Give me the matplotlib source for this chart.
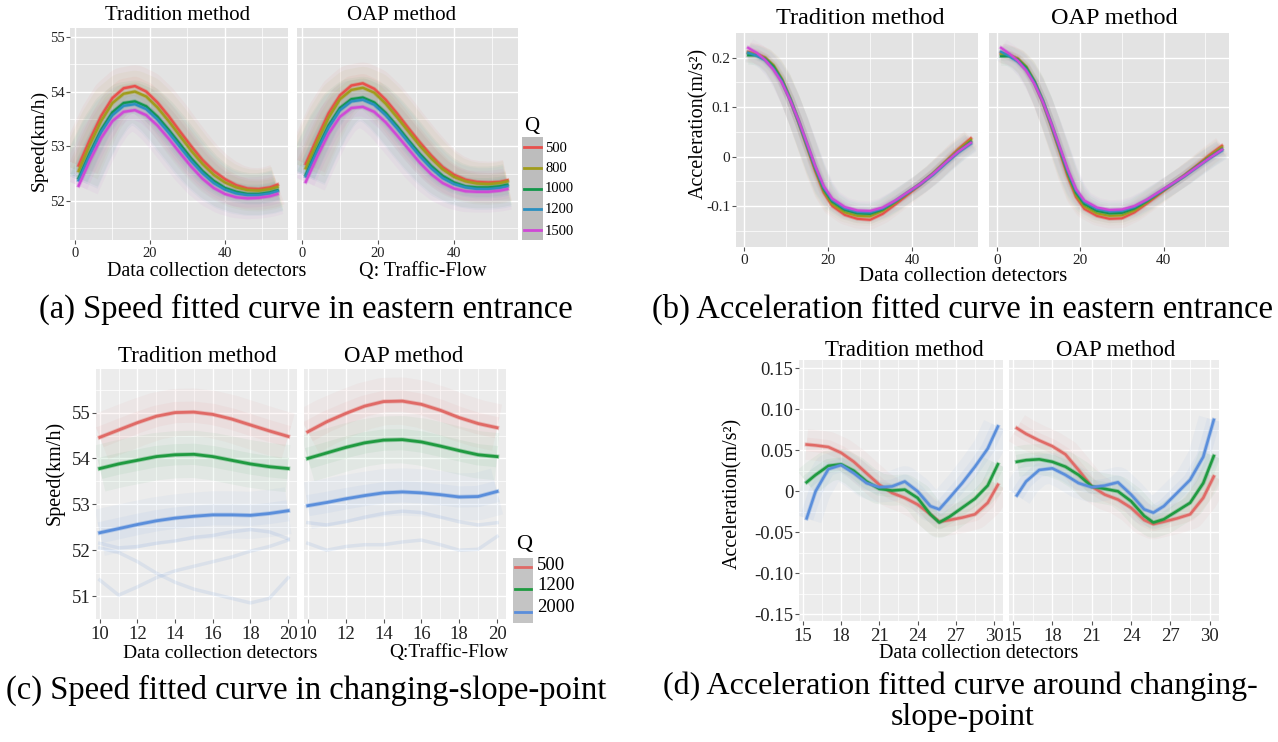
import numpy as np
import matplotlib.pyplot as plt

plt.rcParams['font.family'] = ['Liberation Serif', 'DejaVu Serif']

W, H = 1278, 742

# ---------------- (a) speed, eastern entrance ----------------
a_x = [1, 4, 7, 10, 13, 16, 19, 22, 25, 28, 31, 34, 37, 40, 43, 46, 49, 52, 54]
a_q = ['500', '800', '1000', '1200', '1500']
a_trad = [
    [52.65, 53.12, 53.55, 53.88, 54.06, 54.10, 54.00, 53.80, 53.55, 53.27, 53.00, 52.75, 52.55, 52.40, 52.29, 52.23, 52.22, 52.25, 52.30],
    [52.55, 53.03, 53.46, 53.79, 53.96, 54.00, 53.91, 53.71, 53.46, 53.19, 52.92, 52.68, 52.48, 52.34, 52.25, 52.20, 52.19, 52.22, 52.26],
    [52.42, 52.88, 53.30, 53.62, 53.79, 53.82, 53.73, 53.54, 53.30, 53.04, 52.78, 52.55, 52.37, 52.24, 52.17, 52.13, 52.13, 52.16, 52.20],
    [52.38, 52.84, 53.26, 53.57, 53.74, 53.77, 53.68, 53.49, 53.25, 52.99, 52.73, 52.51, 52.33, 52.21, 52.14, 52.11, 52.11, 52.14, 52.18],
    [52.28, 52.74, 53.15, 53.46, 53.63, 53.66, 53.57, 53.38, 53.14, 52.88, 52.63, 52.41, 52.24, 52.13, 52.07, 52.05, 52.06, 52.09, 52.13],
]
a_oap = [
    [52.68, 53.15, 53.60, 53.93, 54.11, 54.15, 54.05, 53.85, 53.60, 53.33, 53.07, 52.83, 52.62, 52.48, 52.39, 52.35, 52.34, 52.35, 52.38],
    [52.60, 53.08, 53.52, 53.86, 54.03, 54.07, 53.98, 53.78, 53.53, 53.27, 53.01, 52.78, 52.58, 52.44, 52.36, 52.32, 52.31, 52.33, 52.36],
    [52.48, 52.95, 53.38, 53.70, 53.86, 53.89, 53.80, 53.61, 53.37, 53.11, 52.86, 52.64, 52.46, 52.34, 52.27, 52.25, 52.25, 52.27, 52.30],
    [52.45, 52.91, 53.34, 53.66, 53.82, 53.85, 53.76, 53.57, 53.33, 53.07, 52.82, 52.60, 52.42, 52.31, 52.25, 52.22, 52.22, 52.24, 52.27],
    [52.35, 52.81, 53.23, 53.54, 53.70, 53.72, 53.63, 53.44, 53.20, 52.95, 52.70, 52.49, 52.33, 52.23, 52.18, 52.17, 52.17, 52.19, 52.22],
]

# ---------------- (b) acceleration, eastern entrance ----------------
b_x = [1, 3, 5, 7, 9, 11, 13, 15, 17, 19, 21, 24, 27, 30, 33, 36, 39, 42, 45, 48, 51, 54]
b_trad = [
    [0.212, 0.208, 0.200, 0.183, 0.155, 0.115, 0.070, 0.020, -0.030, -0.073, -0.100, -0.118, -0.126, -0.128, -0.116, -0.097, -0.077, -0.057, -0.035, -0.010, 0.015, 0.037],
    [0.210, 0.207, 0.200, 0.185, 0.157, 0.117, 0.071, 0.022, -0.027, -0.070, -0.096, -0.113, -0.120, -0.121, -0.110, -0.093, -0.074, -0.055, -0.034, -0.010, 0.013, 0.034],
    [0.205, 0.205, 0.198, 0.182, 0.155, 0.116, 0.071, 0.023, -0.024, -0.066, -0.091, -0.108, -0.115, -0.116, -0.107, -0.091, -0.073, -0.055, -0.035, -0.012, 0.010, 0.030],
    [0.210, 0.204, 0.195, 0.178, 0.152, 0.115, 0.072, 0.025, -0.022, -0.063, -0.088, -0.105, -0.112, -0.113, -0.105, -0.090, -0.073, -0.056, -0.037, -0.014, 0.008, 0.026],
    [0.220, 0.210, 0.196, 0.176, 0.150, 0.114, 0.073, 0.027, -0.020, -0.060, -0.085, -0.102, -0.109, -0.110, -0.103, -0.089, -0.072, -0.055, -0.035, -0.012, 0.010, 0.028],
]
b_oap = [
    [0.210, 0.205, 0.198, 0.180, 0.150, 0.110, 0.063, 0.012, -0.040, -0.082, -0.106, -0.120, -0.126, -0.125, -0.113, -0.095, -0.076, -0.057, -0.038, -0.018, 0.003, 0.022],
    [0.208, 0.205, 0.198, 0.182, 0.152, 0.112, 0.065, 0.015, -0.036, -0.078, -0.101, -0.115, -0.120, -0.119, -0.109, -0.092, -0.074, -0.056, -0.038, -0.019, 0.001, 0.019],
    [0.203, 0.203, 0.196, 0.180, 0.152, 0.113, 0.066, 0.017, -0.032, -0.073, -0.096, -0.110, -0.115, -0.114, -0.105, -0.090, -0.073, -0.056, -0.039, -0.020, -0.002, 0.015],
    [0.212, 0.203, 0.192, 0.176, 0.149, 0.112, 0.067, 0.019, -0.029, -0.069, -0.092, -0.106, -0.111, -0.110, -0.102, -0.088, -0.072, -0.056, -0.040, -0.022, -0.004, 0.012],
    [0.220, 0.208, 0.194, 0.174, 0.147, 0.111, 0.068, 0.021, -0.026, -0.066, -0.089, -0.103, -0.108, -0.107, -0.100, -0.087, -0.071, -0.055, -0.039, -0.021, -0.003, 0.014],
]

# ---------------- (c) speed, changing-slope-point ----------------
c_x = [10, 11, 12, 13, 14, 15, 16, 17, 18, 19, 20]
c_q = ['500', '1200', '2000']
c_trad = [
    [54.46, 54.62, 54.78, 54.92, 55.00, 55.01, 54.96, 54.86, 54.73, 54.60, 54.48],
    [53.78, 53.88, 53.96, 54.04, 54.08, 54.09, 54.04, 53.96, 53.88, 53.82, 53.78],
    [52.38, 52.47, 52.56, 52.64, 52.70, 52.74, 52.77, 52.77, 52.76, 52.80, 52.86],
]
c_oap = [
    [54.58, 54.80, 54.98, 55.14, 55.24, 55.25, 55.18, 55.05, 54.89, 54.76, 54.67],
    [54.00, 54.12, 54.24, 54.34, 54.40, 54.41, 54.36, 54.27, 54.17, 54.08, 54.04],
    [52.97, 53.04, 53.12, 53.19, 53.25, 53.27, 53.25, 53.21, 53.16, 53.17, 53.28],
]
# a few faint single-run lines (2000 veh/h)
c_trad_faint = [
    [51.35, 51.02, 51.20, 51.40, 51.55, 51.65, 51.75, 51.85, 51.98, 52.08, 52.22],
    [52.05, 51.95, 51.75, 51.50, 51.30, 51.15, 51.05, 50.95, 50.85, 50.95, 51.40],
    [52.15, 52.05, 52.08, 52.15, 52.20, 52.28, 52.32, 52.40, 52.45, 52.40, 52.25],
]
c_oap_faint = [
    [52.15, 52.00, 52.08, 52.12, 52.12, 52.18, 52.22, 52.12, 52.00, 52.02, 52.30],
    [52.60, 52.55, 52.62, 52.72, 52.80, 52.85, 52.82, 52.72, 52.62, 52.55, 52.60],
]

# ---------------- (d) acceleration around changing-slope-point ----------------
d_x = [15.3, 16, 17, 18, 19, 20, 21, 22, 23, 24, 25, 25.7, 26.5, 27.5, 28.5, 29.5, 30.3]
d_trad = [
    [0.057, 0.056, 0.054, 0.047, 0.036, 0.022, 0.008, -0.002, -0.008, -0.016, -0.028, -0.037, -0.035, -0.032, -0.028, -0.014, 0.008],
    [0.011, 0.020, 0.031, 0.033, 0.025, 0.012, 0.003, 0.001, 0.002, -0.008, -0.028, -0.038, -0.031, -0.020, -0.009, 0.007, 0.033],
    [-0.033, 0.000, 0.027, 0.032, 0.022, 0.010, 0.005, 0.006, 0.012, 0.000, -0.018, -0.022, -0.008, 0.010, 0.030, 0.052, 0.079],
]
d_oap = [
    [0.077, 0.070, 0.062, 0.055, 0.045, 0.026, 0.006, -0.004, -0.010, -0.020, -0.035, -0.040, -0.037, -0.033, -0.028, -0.008, 0.018],
    [0.036, 0.038, 0.039, 0.036, 0.030, 0.020, 0.006, 0.003, 0.000, -0.012, -0.030, -0.038, -0.034, -0.024, -0.014, 0.010, 0.043],
    [-0.005, 0.012, 0.026, 0.028, 0.020, 0.010, 0.005, 0.007, 0.011, -0.004, -0.022, -0.026, -0.018, -0.002, 0.014, 0.042, 0.087],
]

A_COLORS = ['#e8504c', '#a09c1c', '#12964a', '#2b8fc0', '#cf49d6']
C_COLORS = ['#e06a66', '#1f9a40', '#5a8edb']

fig = plt.figure(figsize=(W / 100, H / 100), dpi=100)


def px_axes(x0, y0, x1, y1):
    return fig.add_axes([x0 / W, 1 - y1 / H, (x1 - x0) / W, (y1 - y0) / H])


def ftext(x, y, s, **kw):
    kw.setdefault('ha', 'center')
    kw.setdefault('va', 'center')
    fig.text(x / W, 1 - y / H, s, **kw)


def facet(rect, xlim, ylim, xt, yt, xminor, yminor, bg, fs, ylabels=None):
    ax = px_axes(*rect)
    ax.set_facecolor(bg)
    for s in ax.spines.values():
        s.set_visible(False)
    ax.set_xlim(xlim)
    ax.set_ylim(ylim)
    ax.set_xticks(xt)
    ax.set_xticklabels([f'{v:g}' for v in xt], fontsize=fs, color='#222')
    ax.set_yticks(yt)
    ax.set_xticks(xminor, minor=True)
    ax.set_yticks(yminor, minor=True)
    ax.grid(True, which='major', color='white', lw=1.0)
    ax.grid(True, which='minor', color='white', lw=0.5)
    ax.set_axisbelow(True)
    ax.tick_params(which='minor', length=0)
    ax.tick_params(axis='x', length=3, color='#555', pad=2)
    if ylabels is None:
        ax.tick_params(axis='y', length=0, labelleft=False)
    else:
        ax.set_yticklabels(ylabels, fontsize=fs, color='#222')
        ax.tick_params(axis='y', length=3, color='#555', pad=1)
    return ax


def draw(ax, x, series, colors, halo, lw, alpha=0.05):
    for ys, c in zip(series, colors):
        ax.plot(x, ys, color=c, lw=halo, alpha=alpha, solid_capstyle='butt')
        ax.plot(x, ys, color=c, lw=halo * 0.45, alpha=alpha * 1.2, solid_capstyle='butt')
    for ys, c in zip(series, colors):
        ax.plot(x, ys, color=c, lw=lw + 1.2, alpha=0.35)
        ax.plot(x, ys, color=c, lw=lw)


# ---- panel (a)
bg_ab = '#e3e3e3'
a_yl = (51.29, 55.16)
a1 = facet((70, 28, 288, 240), (-1.3, 56.8), a_yl, [0, 20, 40], [52, 53, 54, 55],
           [10, 30, 50], [51.5, 52.5, 53.5, 54.5], bg_ab, 10.5, ['52', '53', '54', '55'])
a2 = facet((297, 28, 518, 240), (-1.3, 56.8), a_yl, [0, 20, 40], [52, 53, 54, 55],
           [10, 30, 50], [51.5, 52.5, 53.5, 54.5], bg_ab, 10.5)
draw(a1, a_x, a_trad, A_COLORS, 30, 1.7)
draw(a2, a_x, a_oap, A_COLORS, 30, 1.7)
ftext(178, 15, 'Tradition method', fontsize=15)
ftext(402, 15, 'OAP method', fontsize=15)
ftext(39, 140, 'Speed(km/h)', fontsize=14, rotation=90)
ftext(207, 272, 'Data collection detectors', fontsize=14.5)
ftext(423, 272, 'Q: Traffic-Flow', fontsize=14.5)

# legend (a)
la = px_axes(522, 137, 543, 240)
la.set_facecolor('#bdbdbd')
la.set_xlim(0, 1)
la.set_ylim(0, 5)
la.set_xticks([])
la.set_yticks([])
for s in la.spines.values():
    s.set_visible(False)
for i, (q, c) in enumerate(zip(a_q, A_COLORS)):
    yy = 4.5 - i
    la.plot([0.1, 0.9], [yy, yy], color=c, lw=2)
ftext(532, 126, 'Q', fontsize=15)
for q, yy in zip(a_q, [148, 168, 188, 209, 231]):
    ftext(545, yy, q, fontsize=10.5, ha='left')
ftext(306, 309, '(a) Speed fitted curve in eastern entrance', fontsize=23.5)

# ---- panel (b)
b_yl = (-0.183, 0.25)
b_ylab = ['-0.1', '0', '0.1', '0.2']
b1 = facet((736, 33, 978, 247), (-1.9, 55.7), b_yl, [0, 20, 40], [-0.1, 0, 0.1, 0.2],
           [10, 30, 50], [-0.15, -0.05, 0.05, 0.15], bg_ab, 11, b_ylab)
b2 = facet((989, 33, 1229, 247), (-1.9, 55.7), b_yl, [0, 20, 40], [-0.1, 0, 0.1, 0.2],
           [10, 30, 50], [-0.15, -0.05, 0.05, 0.15], bg_ab, 11)
draw(b1, b_x, b_trad, A_COLORS, 14, 1.5, 0.035)
draw(b2, b_x, b_oap, A_COLORS, 14, 1.5, 0.035)
ftext(860, 18, 'Tradition method', fontsize=17.5)
ftext(1114, 18, 'OAP method', fontsize=17.5)
ftext(699, 123, 'Acceleration(m/s\u00b2)', fontsize=14.5, rotation=90)
ftext(963, 276, 'Data collection detectors', fontsize=15)
ftext(962, 309, '(b) Acceleration fitted curve in eastern entrance', fontsize=23.5)

# ---- panel (c)
bg_cd = '#ececec'
c_yl = (50.57, 55.95)
c_xt = [10, 12, 14, 16, 18, 20]
c1 = facet((96, 369, 297, 619), (9.8, 20.47), c_yl, c_xt, [51, 52, 53, 54, 55],
           [11, 13, 15, 17, 19], [50.5, 51.5, 52.5, 53.5, 54.5, 55.5], bg_cd, 13.5,
           ['51', '52', '53', '54', '55'])
c2 = facet((304, 369, 506, 619), (9.8, 20.47), c_yl, c_xt, [51, 52, 53, 54, 55],
           [11, 13, 15, 17, 19], [50.5, 51.5, 52.5, 53.5, 54.5, 55.5], bg_cd, 13.5)
for ys in c_trad_faint:
    c1.plot(c_x, ys, color=C_COLORS[2], lw=2.5, alpha=0.12)
for ys in c_oap_faint:
    c2.plot(c_x, ys, color=C_COLORS[2], lw=2.5, alpha=0.12)
draw(c1, c_x, c_trad, C_COLORS, 34, 2.0)
draw(c2, c_x, c_oap, C_COLORS, 34, 2.0)
ftext(197, 357, 'Tradition method', fontsize=16.5)
ftext(404, 357, 'OAP method', fontsize=16.5)
ftext(55, 473, 'Speed(km/h)', fontsize=14.5, rotation=90)
ftext(220, 653, 'Data collection detectors', fontsize=14)
ftext(449, 653, 'Q:Traffic-Flow', fontsize=14)

lc = px_axes(513, 558, 533, 623)
lc.set_facecolor('#c4c4c4')
lc.set_xlim(0, 1)
lc.set_ylim(0, 3)
lc.set_xticks([])
lc.set_yticks([])
for s in lc.spines.values():
    s.set_visible(False)
for i, c in enumerate(C_COLORS):
    yy = 2.6 - i * 1.05
    lc.plot([0.1, 0.9], [yy, yy], color=c, lw=2)
ftext(524, 544, 'Q', fontsize=16)
for q, yy in zip(c_q, [566, 586, 608]):
    ftext(537, yy, q, fontsize=13.5, ha='left')
ftext(306, 690, '(c) Speed fitted curve in changing-slope-point', fontsize=23.5)

# ---- panel (d)
d_yl = (-0.158, 0.16)
d_yt = [-0.15, -0.10, -0.05, 0, 0.05, 0.10, 0.15]
d_ylab = ['-0.15', '-0.10', '-0.05', '0', '0.05', '0.10', '0.15']
d_xt = [15, 18, 21, 24, 27, 30]
d_xm = [16.5, 19.5, 22.5, 25.5, 28.5]
d_ym = [-0.125, -0.075, -0.025, 0.025, 0.075, 0.125]
d1 = facet((799, 360, 1003, 621), (14.7, 30.7), d_yl, d_xt, d_yt, d_xm, d_ym, bg_cd, 13.5, d_ylab)
d2 = facet((1009, 360, 1219, 621), (14.7, 30.7), d_yl, d_xt, d_yt, d_xm, d_ym, bg_cd, 13.5)
draw(d1, d_x, d_trad, C_COLORS, 22, 1.8)
draw(d2, d_x, d_oap, C_COLORS, 22, 1.8)
ftext(904, 350, 'Tradition method', fontsize=16.5)
ftext(1116, 350, 'OAP method', fontsize=16.5)
ftext(733, 493, 'Acceleration(m/s\u00b2)', fontsize=14.5, rotation=90)
ftext(979, 653, 'Data collection detectors', fontsize=14.5)
ftext(960, 686, '(d) Acceleration fitted curve around changing-', fontsize=23)
ftext(963, 718, 'slope-point', fontsize=23)

fig.savefig('out.png', dpi=100)
